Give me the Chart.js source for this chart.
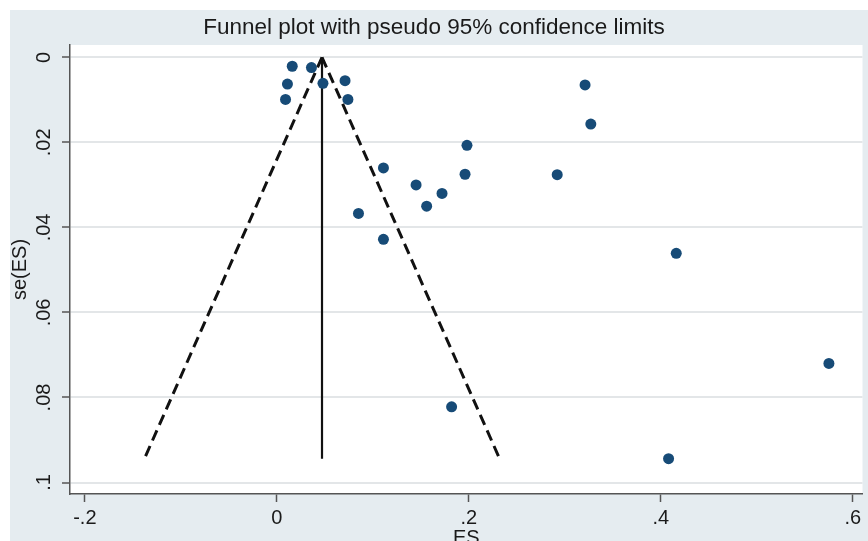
<!DOCTYPE html>
<html>
<head>
<meta charset="utf-8">
<script src="https://cdn.jsdelivr.net/npm/chart.js@4/dist/chart.umd.min.js"></script>
<style>
  html, body { margin: 0; padding: 0; background: #ffffff; }
  #wrap { width: 868px; height: 541px; position: relative; }
</style>
</head>
<body>
<div id="wrap"><canvas id="funnel" width="868" height="541"></canvas></div>
<script>
// Study effect sizes (ES) and their standard errors, se(ES)
const esValues = [0.016, 0.036, 0.011, 0.009, 0.048, 0.071, 0.074, 0.198, 0.111, 0.196, 0.145,
                  0.172, 0.156, 0.085, 0.111, 0.321, 0.327, 0.292, 0.416, 0.575, 0.408, 0.182];
const seValues = [0.0021, 0.0024, 0.0063, 0.0099, 0.0061, 0.0055, 0.0099, 0.0207, 0.0260, 0.0275, 0.0300,
                  0.0320, 0.0350, 0.0367, 0.0428, 0.0065, 0.0157, 0.0276, 0.0461, 0.0720, 0.0944, 0.0822];

// Pooled estimate and pseudo 95% limits at the largest standard error
const pooledES = 0.047;
const seTop = 0;
const seBottom = 0.0944;
const lowerLimitAtBottom = -0.138;
const upperLimitAtBottom = 0.232;

// Axis ticks as printed
const xTicks = [-0.2, 0, 0.2, 0.4, 0.6];
const xTickLabels = ['-.2', '0', '.2', '.4', '.6'];
const yTicks = [0, 0.02, 0.04, 0.06, 0.08, 0.1];
const yTickLabels = ['0', '.02', '.04', '.06', '.08', '.1'];

const FONT = '"Liberation Sans", Arial, Helvetica, sans-serif';
const TEXT = '#1a1a1a';
const OUTER_BG = '#e5ecf0';
const DOT = '#174b77';

const studies = esValues.map((es, i) => ({ x: es, y: seValues[i] }));

const backgroundPlugin = {
  id: 'stataBackground',
  beforeDraw(chart) {
    const { ctx, chartArea: a, width, height } = chart;
    ctx.save();
    ctx.fillStyle = '#ffffff';
    ctx.fillRect(0, 0, width, height);
    ctx.fillStyle = OUTER_BG;
    ctx.fillRect(10, 10, width - 10, height - 10);
    ctx.fillStyle = '#ffffff';
    ctx.fillRect(a.left, a.top, a.right - a.left, a.bottom - a.top);
    ctx.restore();
  }
};

new Chart(document.getElementById('funnel'), {
  type: 'scatter',
  data: {
    datasets: [
      {
        label: 'lower limit',
        type: 'line',
        data: [{ x: pooledES, y: seTop }, { x: lowerLimitAtBottom, y: seBottom }],
        borderColor: '#111111',
        borderWidth: 3,
        borderDash: [11, 6],
        pointRadius: 0,
        fill: false,
        order: 2
      },
      {
        label: 'upper limit',
        type: 'line',
        data: [{ x: pooledES, y: seTop }, { x: upperLimitAtBottom, y: seBottom }],
        borderColor: '#111111',
        borderWidth: 3,
        borderDash: [11, 6],
        pointRadius: 0,
        fill: false,
        order: 2
      },
      {
        label: 'pooled',
        type: 'line',
        data: [{ x: pooledES, y: seTop }, { x: pooledES, y: seBottom }],
        borderColor: '#111111',
        borderWidth: 2.2,
        pointRadius: 0,
        fill: false,
        order: 2
      },
      {
        label: 'studies',
        data: studies,
        pointRadius: 5.5,
        pointHoverRadius: 5.5,
        pointBackgroundColor: DOT,
        pointBorderColor: DOT,
        pointBorderWidth: 0,
        order: 1
      }
    ]
  },
  options: {
    responsive: false,
    animation: false,
    events: [],
    layout: { padding: { top: 0, left: 0, right: 0, bottom: 0 } },
    plugins: {
      legend: { display: false },
      tooltip: { enabled: false },
      title: {
        display: true,
        text: 'Funnel plot with pseudo 95% confidence limits',
        color: TEXT,
        font: { family: FONT, size: 22.5, weight: 'normal', lineHeight: 1.2 },
        padding: { top: 14.5, bottom: 3.5 }
      }
    },
    scales: {
      x: {
        type: 'linear',
        position: 'bottom',
        min: -0.2155,
        max: 0.610,
        afterBuildTicks: (scale) => { scale.ticks = xTicks.map(v => ({ value: v })); },
        afterFit: (scale) => { scale.height = 47; },
        ticks: {
          autoSkip: false,
          maxRotation: 0,
          padding: 4,
          color: TEXT,
          font: { family: FONT, size: 20 },
          callback: (v, i) => xTickLabels[i]
        },
        grid: {
          drawOnChartArea: false,
          drawTicks: true,
          tickLength: 8,
          tickColor: '#555555',
          tickWidth: 1.5
        },
        border: { display: true, color: '#555555', width: 1.5 },
        title: {
          display: true,
          text: 'ES',
          color: TEXT,
          font: { family: FONT, size: 20, lineHeight: 1.2 },
          padding: { top: 0, bottom: -9 }
        }
      },
      y: {
        type: 'linear',
        position: 'left',
        reverse: true,
        min: -0.0029,
        max: 0.1027,
        afterBuildTicks: (scale) => { scale.ticks = yTicks.map(v => ({ value: v })); },
        afterFit: (scale) => { scale.width = 70; },
        ticks: {
          autoSkip: false,
          minRotation: 90,
          maxRotation: 90,
          crossAlign: 'center',
          padding: 4,
          color: TEXT,
          font: { family: FONT, size: 20 },
          callback: (v, i) => yTickLabels[i]
        },
        grid: {
          drawOnChartArea: true,
          color: '#e3e6e8',
          lineWidth: 2,
          drawTicks: true,
          tickLength: 8,
          tickColor: '#555555',
          tickWidth: 1.5
        },
        border: { display: true, color: '#555555', width: 1.5 },
        title: {
          display: true,
          text: 'se(ES)',
          color: TEXT,
          font: { family: FONT, size: 20, lineHeight: 1.2 },
          padding: { top: 8, bottom: 0 }
        }
      }
    }
  },
  plugins: [backgroundPlugin]
});
</script>
</body>
</html>
